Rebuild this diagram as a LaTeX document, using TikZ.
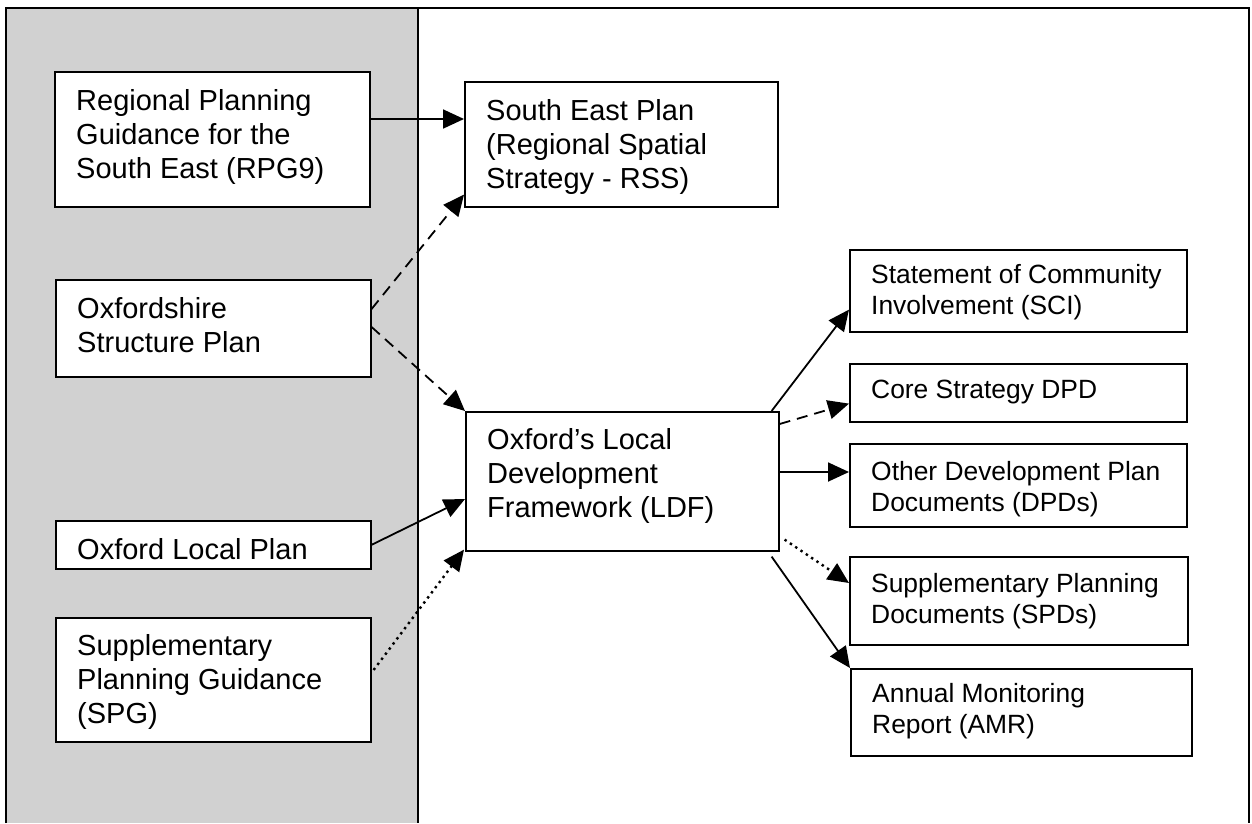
\documentclass[tikz,border=0pt]{standalone}
\usepackage{fontspec}
\setmainfont{Liberation Sans}
\usetikzlibrary{arrows.meta,calc}
\begin{document}
\begin{tikzpicture}[x=1pt,y=-1pt,
  box/.style={draw, line width=1.6pt, fill=white, inner sep=0pt, anchor=north west},
  lbl/.style={anchor=north west, inner sep=0pt, align=left, font=\fontsize{29}{34}\selectfont},
  rlbl/.style={anchor=north west, inner sep=0pt, align=left, font=\fontsize{26.4}{31}\selectfont},
  arr/.style={line width=1.8pt, -{Triangle[length=21pt,width=19pt]}},
  dsh/.style={arr, dash pattern=on 11pt off 7pt},
  dtt/.style={arr, line width=2.4pt, dash pattern=on 2.4pt off 4pt},
  frame/.style={line width=2pt}]
\useasboundingbox (0,0) rectangle (1252,823);
\fill[white] (0,0) rectangle (1252,823);
\fill[black!18] (6,8) rectangle (418,823);
\draw[frame] (6,823) -- (6,8) -- (1249,8) -- (1249,823);
\draw[frame] (418,8) -- (418,823);

% left column
\node[box, minimum width=315, minimum height=135] (rpg) at (54,71) {};
\node[lbl] (rpgT) at ($(rpg.north west)+(22,18)$) {Regional Planning\\Guidance for the\\South East (RPG9)};
\node[box, minimum width=315, minimum height=97] (oxs) at (55,279) {};
\node[lbl] (oxsT) at ($(oxs.north west)+(22,18)$) {Oxfordshire\\Structure Plan};
\node[box, minimum width=315, minimum height=48] (olp) at (55,520) {};
\node[lbl] (olpT) at ($(olp.north west)+(22,18)$) {Oxford Local Plan};
\node[box, minimum width=315, minimum height=124] (spg) at (55,617) {};
\node[lbl] (spgT) at ($(spg.north west)+(22,17)$) {Supplementary\\Planning Guidance\\(SPG)};

% middle column
\node[box, minimum width=313, minimum height=125] (sep) at (464,81) {};
\node[lbl] (sepT) at ($(sep.north west)+(22,18)$) {South East Plan\\(Regional Spatial\\Strategy - RSS)};
\node[box, minimum width=313, minimum height=139] (ldf) at (465,411) {};
\node[lbl] (ldfT) at ($(ldf.north west)+(22,17)$) {Oxford’s Local\\Development\\Framework (LDF)};

% right column
\node[box, minimum width=337, minimum height=82] (sci) at (849,249) {};
\node[rlbl] (sciT) at ($(sci.north west)+(22,15)$) {Statement of Community\\Involvement (SCI)};
\node[box, minimum width=337, minimum height=58] (core) at (849,363) {};
\node[rlbl] (coreT) at ($(core.north west)+(22,17)$) {Core Strategy DPD};
\node[box, minimum width=337, minimum height=83] (oth) at (849,443) {};
\node[rlbl] (othT) at ($(oth.north west)+(22,18)$) {Other Development Plan\\Documents (DPDs)};
\node[box, minimum width=338, minimum height=88] (spd) at (849,556) {};
\node[rlbl] (spdT) at ($(spd.north west)+(22,17)$) {Supplementary Planning\\Documents (SPDs)};
\node[box, minimum width=341, minimum height=87] (amr) at (850,668) {};
\node[rlbl] (amrT) at ($(amr.north west)+(22,15)$) {Annual Monitoring\\Report (AMR)};

% connectors
\draw[arr] ($(rpg.north east)+(0,48)$) -- ($(sep.north west)+(0,38)$);
\draw[dsh] ($(oxs.north east)+(0,30)$) -- ($(sep.south west)+(0,-13)$);
\draw[dsh] ($(oxs.north east)+(0,48)$) -- (ldf.north west);
\draw[arr] (olp.east) -- ($(ldf.north west)+(0,88)$);
\draw[dtt] ($(spg.north east)+(2,53)$) -- ($(ldf.south west)+(-1,-2)$);
\draw[arr] ($(ldf.north east)+(-8,0)$) -- ($(sci.south west)+(0,-23)$);
\draw[dsh] ($(ldf.north east)+(0,13)$) -- ($(core.south west)+(0,-19)$);
\draw[arr] ($(ldf.north east)+(0,61)$) -- ($(oth.north west)+(0,29)$);
\draw[dtt] ($(ldf.south east)+(5,-12)$) -- ($(spd.north west)+(0,27)$);
\draw[arr] ($(ldf.south east)+(-8,5)$) -- (amr.north west);
\end{tikzpicture}
\end{document}
